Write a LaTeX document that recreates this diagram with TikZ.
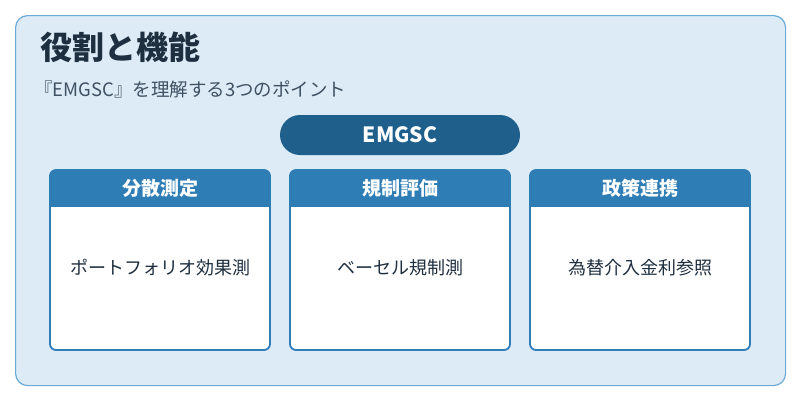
\documentclass[tikz,border=0pt]{standalone}
\usepackage{fontspec}
\setmainfont{Noto Sans CJK JP}
\usetikzlibrary{positioning}
\definecolor{bgblue}{HTML}{DCEBF5}
\definecolor{edgeblue}{HTML}{6AAAD4}
\definecolor{darkblue}{HTML}{1F5F8B}
\definecolor{midblue}{HTML}{2E7DB5}
\definecolor{titlecol}{HTML}{1E2F40}
\definecolor{subcol}{HTML}{3F5163}
\tikzset{
  card/.style={draw=midblue, line width=1.8pt, fill=white, rounded corners=6pt,
    minimum width=220pt, minimum height=180pt, anchor=north west},
  cardhead/.style={fill=midblue, text=white, font=\bfseries\fontsize{19}{22}\selectfont,
    minimum width=220pt, minimum height=37pt, anchor=north west, inner sep=0pt},
  cardtext/.style={font=\fontsize{18}{21}\selectfont, text=titlecol},
}
\begin{document}
\begin{tikzpicture}[x=1pt,y=-1pt]
\useasboundingbox (0,0) rectangle (800,400);
\fill[white] (0,0) rectangle (800,400);
\node[draw=edgeblue, line width=1.2pt, fill=bgblue, rounded corners=12pt,
  minimum width=770pt, minimum height=370pt, anchor=north west] (frame) at (15,15) {};
\node[anchor=west, font=\bfseries\fontsize{32}{36}\selectfont, text=titlecol, inner sep=0pt] (title) at (40,47) {役割と機能};
\node[anchor=west, font=\fontsize{18.5}{21}\selectfont, text=subcol, inner sep=0pt] (sub) at (34,89) {『EMGSC』を理解する3つのポイント};
\node[fill=darkblue, text=white, rounded corners=20pt, minimum width=240pt, minimum height=40pt,
  font=\bfseries\fontsize{21}{24}\selectfont] (pill) at (400,135) {EMGSC};
\foreach \x/\name/\head/\body in {50/a/分散測定/ポートフォリオ効果測, 290/b/規制評価/ベーセル規制測, 530/c/政策連携/為替介入金利参照}{
  \begin{scope}
    \clip[rounded corners=6pt] (\x,170) rectangle ++(220,180);
    \node[card, draw=none] (\name) at (\x,170) {};
    \node[cardhead] (\name h) at (\x,170) {\head};
  \end{scope}
  \draw[midblue, line width=1.8pt, rounded corners=6pt] (\x,170) rectangle ++(220,180);
  \node[cardtext] (\name t) at (\x+110,268) {\body};
}
\end{tikzpicture}
\end{document}
